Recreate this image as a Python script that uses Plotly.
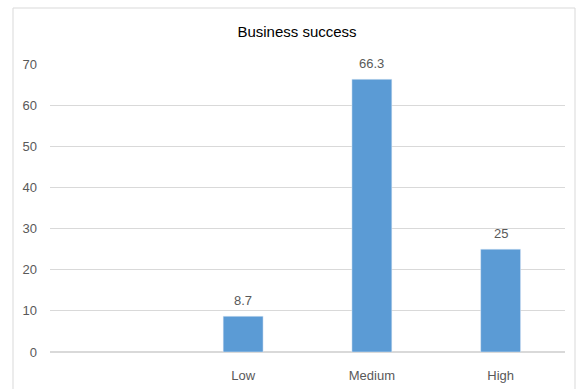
import plotly.graph_objects as go

categories = [" ", "Low", "Medium", "High"]
values = [None, 8.7, 66.3, 25]
labels = ["", "8.7", "66.3", "25"]
y_ticks = [0, 10, 20, 30, 40, 50, 60, 70]

FONT = "Liberation Sans"
GRAY = "#595959"

fig = go.Figure(go.Bar(
    x=categories, y=values,
    marker_color="#5B9BD5", width=0.31,
))

for c, v, t in zip(categories, values, labels):
    if v is None:
        continue
    fig.add_annotation(x=c, y=v, text=t, showarrow=False, yanchor="bottom",
                       yshift=6, font=dict(color=GRAY, size=13, family=FONT))

L, R, T, B = 50, 11, 64, 37
W, H = 576, 389
pw, ph = W - L - R, H - T - B

fig.update_layout(
    width=W, height=H,
    margin=dict(l=L, r=R, t=T, b=B),
    paper_bgcolor="white", plot_bgcolor="white",
    title=dict(text="Business success", x=297 / W, xanchor="center",
               y=1 - 32 / H, yanchor="middle",
               font=dict(size=15, color="#000000", family=FONT)),
    showlegend=False,
    xaxis=dict(type="category", showgrid=False, showline=False, ticks="",
               ticklabelstandoff=14, automargin=False,
               tickfont=dict(size=13, color=GRAY, family=FONT),
               categoryorder="array", categoryarray=categories),
    yaxis=dict(range=[0, 70], tickvals=y_ticks, showgrid=True, gridcolor="#D9D9D9",
               zeroline=True, zerolinecolor="#D9D9D9", showline=False, ticks="",
               ticklabelstandoff=12, automargin=False,
               tickfont=dict(size=13, color=GRAY, family=FONT)),
    shapes=[dict(type="rect", xref="paper", yref="paper",
                 x0=(13 - L) / pw, x1=(575 - L) / pw,
                 y0=-0.3, y1=1 + (T - 8) / ph,
                 line=dict(color="#D9D9D9", width=1), layer="below")],
)

fig.write_html("out.html")
